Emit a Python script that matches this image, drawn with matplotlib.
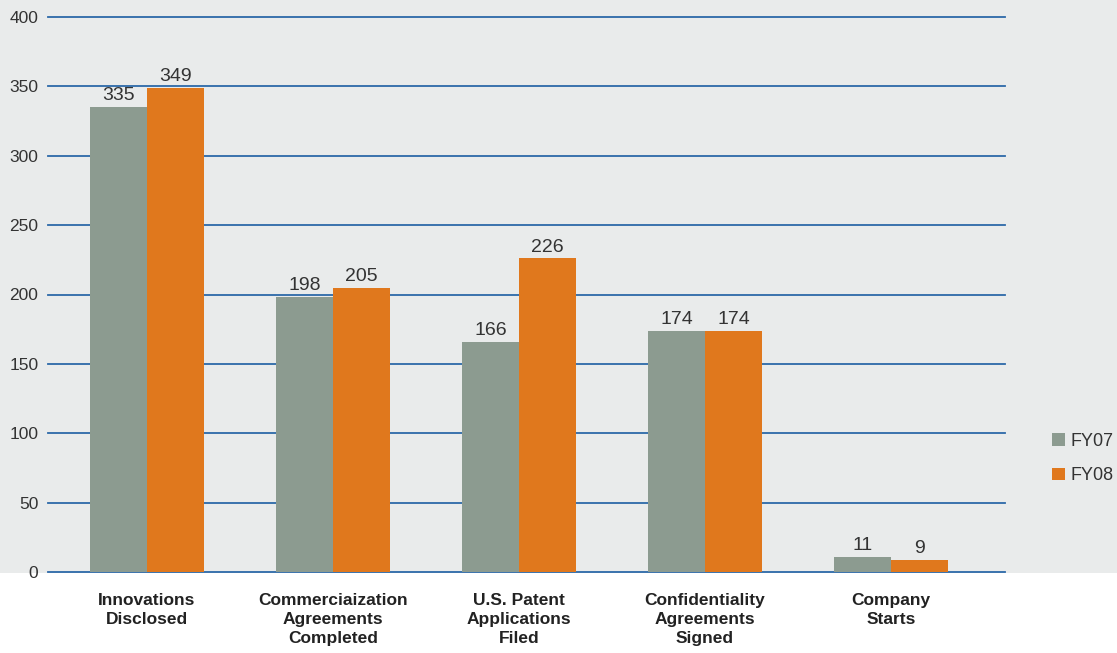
import matplotlib.pyplot as plt
import matplotlib.patches as mpatches
import numpy as np

categories = ['Innovations\nDisclosed', 'Commerciaization\nAgreements\nCompleted',
              'U.S. Patent\nApplications\nFiled', 'Confidentiality\nAgreements\nSigned',
              'Company\nStarts']
fy07 = [335, 198, 166, 174, 11]
fy08 = [349, 205, 226, 174, 9]
series_names = ['FY07', 'FY08']
yticks = [0, 50, 100, 150, 200, 250, 300, 350, 400]

gray_c = '#8c9b90'
orange_c = '#e0781d'
bg = '#e9ebeb'
grid_c = '#2c69a8'
text_c = '#333333'

plt.rcParams['font.family'] = ['Liberation Sans', 'DejaVu Sans']

fig = plt.figure(figsize=(11.17, 6.53), dpi=100)
fig.patch.set_facecolor('white')
# gray band behind the plot, white below the zero line
fig.patches.append(mpatches.Rectangle((0, 80 / 653), 1, 1, transform=fig.transFigure,
                                      facecolor=bg, edgecolor='none', zorder=-10))

ax = fig.add_axes([48 / 1117, 81 / 653, 957 / 1117, 555 / 653])
ax.set_facecolor('none')

x = np.arange(len(categories))
w = 0.306
b1 = ax.bar(x - w / 2, fy07, w, color=gray_c, label=series_names[0], zorder=3)
b2 = ax.bar(x + w / 2, fy08, w, color=orange_c, label=series_names[1], zorder=3)

for bars, vals in ((b1, fy07), (b2, fy08)):
    for rect, v in zip(bars, vals):
        ax.text(rect.get_x() + rect.get_width() / 2, v + 2, str(v), ha='center', va='bottom',
                fontsize=14, color=text_c, zorder=4)

ax.set_xlim(-0.532, 4.613)
ax.set_ylim(0, 400)
ax.set_yticks(yticks)
for t in yticks:
    ax.axhline(t, color=grid_c, lw=1.3, zorder=2, clip_on=False)

for s in ax.spines.values():
    s.set_visible(False)
ax.tick_params(axis='y', length=0, labelsize=12.5, labelcolor=text_c, pad=7)
ax.tick_params(axis='x', length=0, pad=15)
ax.set_xticks(x)
ax.set_xticklabels(categories, fontsize=12.5, fontweight='bold', color='#222222',
                   linespacing=1.35, va='top')

fig.legend(handles=[b1, b2], labels=series_names, loc='upper left',
           bbox_to_anchor=(1052 / 1117, 1 - 433 / 653), frameon=False, fontsize=13,
           handlelength=0.7, handleheight=0.7, handletextpad=0.35, labelspacing=0.95,
           borderpad=0, borderaxespad=0, labelcolor=text_c)

plt.savefig('out.png', dpi=100, facecolor=fig.get_facecolor())
